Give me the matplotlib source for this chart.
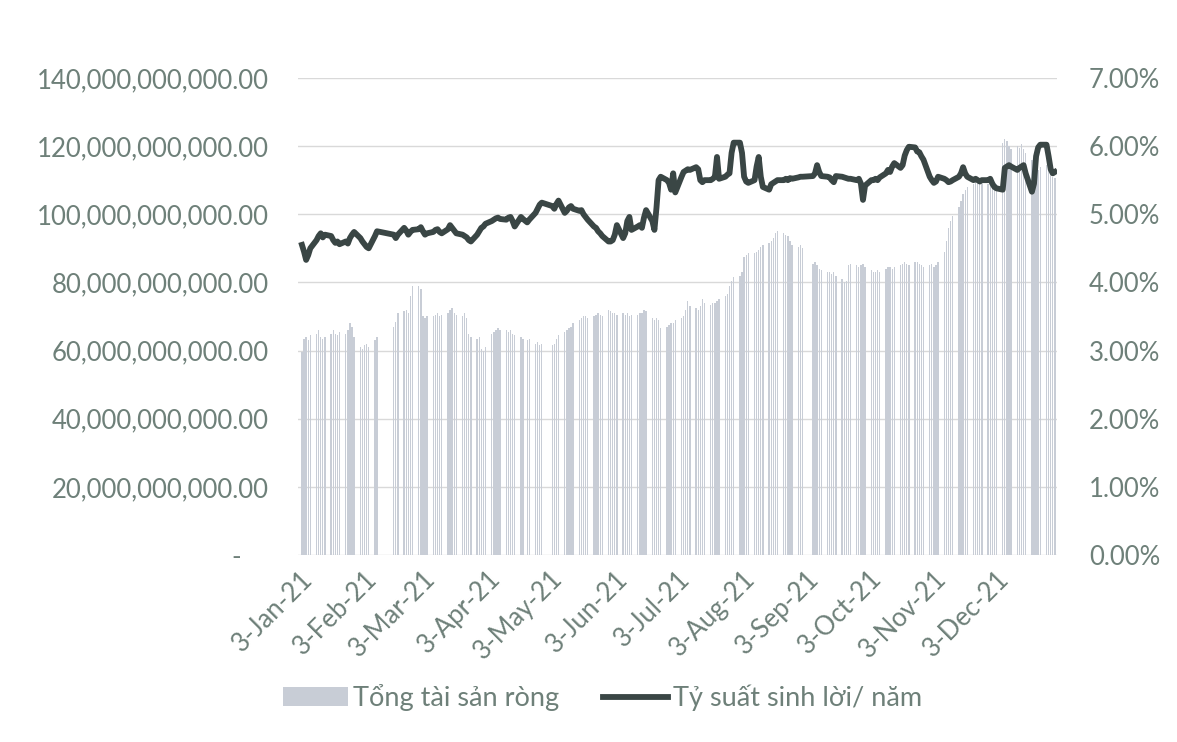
import matplotlib
matplotlib.use("Agg")
import matplotlib.pyplot as plt
import pandas as pd
from matplotlib.ticker import FixedLocator, FuncFormatter

# trading days of 2021 (weekends and market holidays skipped)
holidays = ["2021-01-01", "2021-02-10", "2021-02-11", "2021-02-12",
            "2021-02-15", "2021-02-16", "2021-04-21", "2021-04-30",
            "2021-05-03", "2021-09-02", "2021-09-03"]
days = pd.bdate_range("2021-01-01", "2021-12-31", freq="C", holidays=holidays)

# Tong tai san rong, billions VND (one line per month)
nav_bn = [
    59.5, 63.5, 64, 63, 64.5, 65, 66, 64, 63.5, 64, 65, 66, 65, 64.5, 65.5, 65, 66, 68, 67, 64,
    61, 60.5, 61.5, 62, 61, 63, 64, 67, 68.5, 71, 71.5, 72, 71, 76, 79,
    79, 78, 70, 69.5, 70, 70, 70.5, 71, 70, 70.5, 71, 72, 72.5, 71, 70.5, 70, 71, 69.5, 65, 64,
    63.5, 64, 60.5,
    60, 61, 65, 65.5, 66, 66.5, 66, 66, 65.5, 66, 65, 64.5, 64, 63.5, 63, 63.5, 62, 62.5, 61.5, 62,
    61.5, 62, 63.5, 64.5, 65.5, 66, 66.5, 67, 68, 69, 69.5, 70, 70, 69.5, 70, 70.5, 71, 70.5, 70, 72,
    71.5, 71, 71, 70.5, 71, 70.5, 71, 70, 70.5, 70.5, 71, 71, 72, 71.5, 69.5, 69, 69.5, 69, 66.5,
    67, 67.5, 68,
    68, 69, 69.5, 70, 72, 74.5, 73, 72.5, 72, 73, 75, 74, 73.5, 74, 74, 74.5, 75, 76, 76.5, 79,
    80.5, 81.5,
    82, 83, 87.5, 88, 88.5, 88.5, 89, 89.5, 90.5, 91, 91.5, 92, 93, 94.5, 95, 94.5, 94, 93.5, 92,
    91, 90.5, 91,
    90, 85.5, 86, 85, 84, 83.5, 83, 83, 82.5, 83, 82, 81, 80, 80.5, 85, 85.5, 85, 84.5, 85, 85.5,
    84.5, 83.5, 83, 83, 83.5, 83, 84, 84.5, 84.5, 84, 84.5, 85, 85.5, 86, 85.5, 85, 86, 86, 85.5,
    85, 84.5,
    85, 85.5, 84.5, 85, 86, 89, 92, 96, 98, 99.5, 102, 104, 106, 107, 108, 109, 110, 109.5, 110,
    109, 109, 108.5,
    109, 109.5, 109, 121, 122, 121.5, 120, 119, 120, 119.5, 120.5, 119, 118, 116, 115, 114, 113,
    114, 114.5, 113, 112, 111, 110.5,
]

# Ty suat sinh loi / nam, percent (one line per month)
yield_pct = [
    4.55, 4.45, 4.33, 4.4, 4.5, 4.62, 4.68, 4.72, 4.66, 4.7, 4.68, 4.62, 4.58, 4.6, 4.56, 4.6,
    4.57, 4.65, 4.7, 4.74,
    4.65, 4.6, 4.56, 4.52, 4.5, 4.68, 4.75, 4.7, 4.65, 4.7, 4.8, 4.76, 4.7, 4.74, 4.77,
    4.78, 4.81, 4.75, 4.7, 4.72, 4.74, 4.77, 4.78, 4.74, 4.72, 4.78, 4.84, 4.8, 4.76, 4.72, 4.7,
    4.68, 4.66, 4.62, 4.6, 4.7, 4.75, 4.8,
    4.82, 4.86, 4.9, 4.92, 4.94, 4.95, 4.93, 4.92, 4.95, 4.96, 4.9, 4.82, 4.96, 4.93, 4.88, 4.92,
    5.02, 5.08, 5.14, 5.17,
    5.12, 5.08, 5.15, 5.2, 5.02, 5.05, 5.1, 5.12, 5.08, 5.05, 5.06, 5.0, 4.96, 4.92, 4.82, 4.8,
    4.75, 4.72, 4.68, 4.6,
    4.6, 4.62, 4.7, 4.84, 4.65, 4.72, 4.9, 4.96, 4.77, 4.82, 4.84, 4.8, 4.95, 5.06, 4.9, 4.77,
    5.1, 5.5, 5.55, 5.5, 5.46, 5.36,
    5.6, 5.32, 5.55, 5.62, 5.64, 5.66, 5.65, 5.69, 5.66, 5.5, 5.47, 5.5, 5.5, 5.52, 5.55, 5.84,
    5.52, 5.55, 5.58, 5.6, 5.9, 6.05,
    6.05, 5.9, 5.55, 5.48, 5.46, 5.5, 5.7, 5.84, 5.55, 5.4, 5.36, 5.44, 5.46, 5.48, 5.5, 5.5,
    5.52, 5.5, 5.53, 5.52, 5.54, 5.55,
    5.55, 5.56, 5.6, 5.72, 5.62, 5.56, 5.55, 5.54, 5.5, 5.47, 5.56, 5.55, 5.54, 5.53, 5.52, 5.52,
    5.5, 5.52, 5.45, 5.21,
    5.42, 5.5, 5.5, 5.52, 5.5, 5.54, 5.6, 5.65, 5.62, 5.7, 5.75, 5.68, 5.72, 5.86, 5.94, 5.99,
    5.98, 5.92, 5.91, 5.85, 5.8,
    5.55, 5.5, 5.46, 5.48, 5.55, 5.52, 5.5, 5.47, 5.48, 5.5, 5.55, 5.6, 5.69, 5.6, 5.55, 5.5,
    5.52, 5.5, 5.48, 5.5, 5.5, 5.52,
    5.45, 5.4, 5.38, 5.36, 5.68, 5.7, 5.72, 5.7, 5.65, 5.68, 5.7, 5.72, 5.6, 5.33, 5.45, 5.85,
    5.98, 6.02, 6.02, 5.85, 5.66, 5.6, 5.62,
]

tick_labels = ["3-Jan-21", "3-Feb-21", "3-Mar-21", "3-Apr-21", "3-May-21", "3-Jun-21",
               "3-Jul-21", "3-Aug-21", "3-Sep-21", "3-Oct-21", "3-Nov-21", "3-Dec-21"]
tick_dates = pd.to_datetime(tick_labels, format="%d-%b-%y")

assert len(days) == len(nav_bn) == len(yield_pct)

TEXT = "#6e8079"
BAR = "#c8cdd6"
LINE = "#3a4645"
plt.rcParams["font.family"] = ["Lato", "DejaVu Sans"]

fig = plt.figure(figsize=(11.77, 7.42), dpi=100)
ax = fig.add_axes([0.253, 0.252, 0.645, 0.643])
ax2 = ax.twinx()

nav = [v * 1e9 for v in nav_bn]
ax.bar(days, nav, width=0.65, color=BAR, zorder=2, label="Tổng tài sản ròng")
ax2.plot(days, [v / 100 for v in yield_pct], color=LINE, lw=4.2,
         solid_joinstyle="round", label="Tỷ suất sinh lời/ năm")

ax.set_ylim(0, 140e9)
ax2.set_ylim(0, 0.07)
ax.set_xlim(pd.Timestamp("2021-01-02"), pd.Timestamp("2022-01-01"))

ax.yaxis.set_major_locator(FixedLocator([i * 20e9 for i in range(8)]))
ax.yaxis.set_major_formatter(FuncFormatter(
    lambda v, p: "-    " if v == 0 else f"{v:,.2f}"))
ax2.yaxis.set_major_locator(FixedLocator([i * 0.01 for i in range(8)]))
ax2.yaxis.set_major_formatter(FuncFormatter(lambda v, p: f"{v * 100:.2f}%"))

ax.grid(axis="y", color="#d9d9d9", lw=1, zorder=0)
ax.set_axisbelow(True)

ax.set_xticks(tick_dates)
ax.set_xticklabels(tick_labels, rotation=45, ha="right", rotation_mode="anchor")

for a in (ax, ax2):
    for s in a.spines.values():
        s.set_visible(False)
    a.tick_params(length=0, labelsize=18.5, labelcolor=TEXT)
ax.tick_params(axis="y", pad=21)
ax2.tick_params(axis="y", pad=23)
ax.tick_params(axis="x", pad=8)

h1, l1 = ax.get_legend_handles_labels()
h2, l2 = ax2.get_legend_handles_labels()
fig.legend(h1 + h2, l1 + l2, loc="center", bbox_to_anchor=(0.512, 0.06), ncol=2,
           frameon=False, fontsize=19.5, labelcolor=TEXT, handlelength=2.4,
           handletextpad=0.2, columnspacing=1.6)

fig.savefig("out.png", dpi=100)
